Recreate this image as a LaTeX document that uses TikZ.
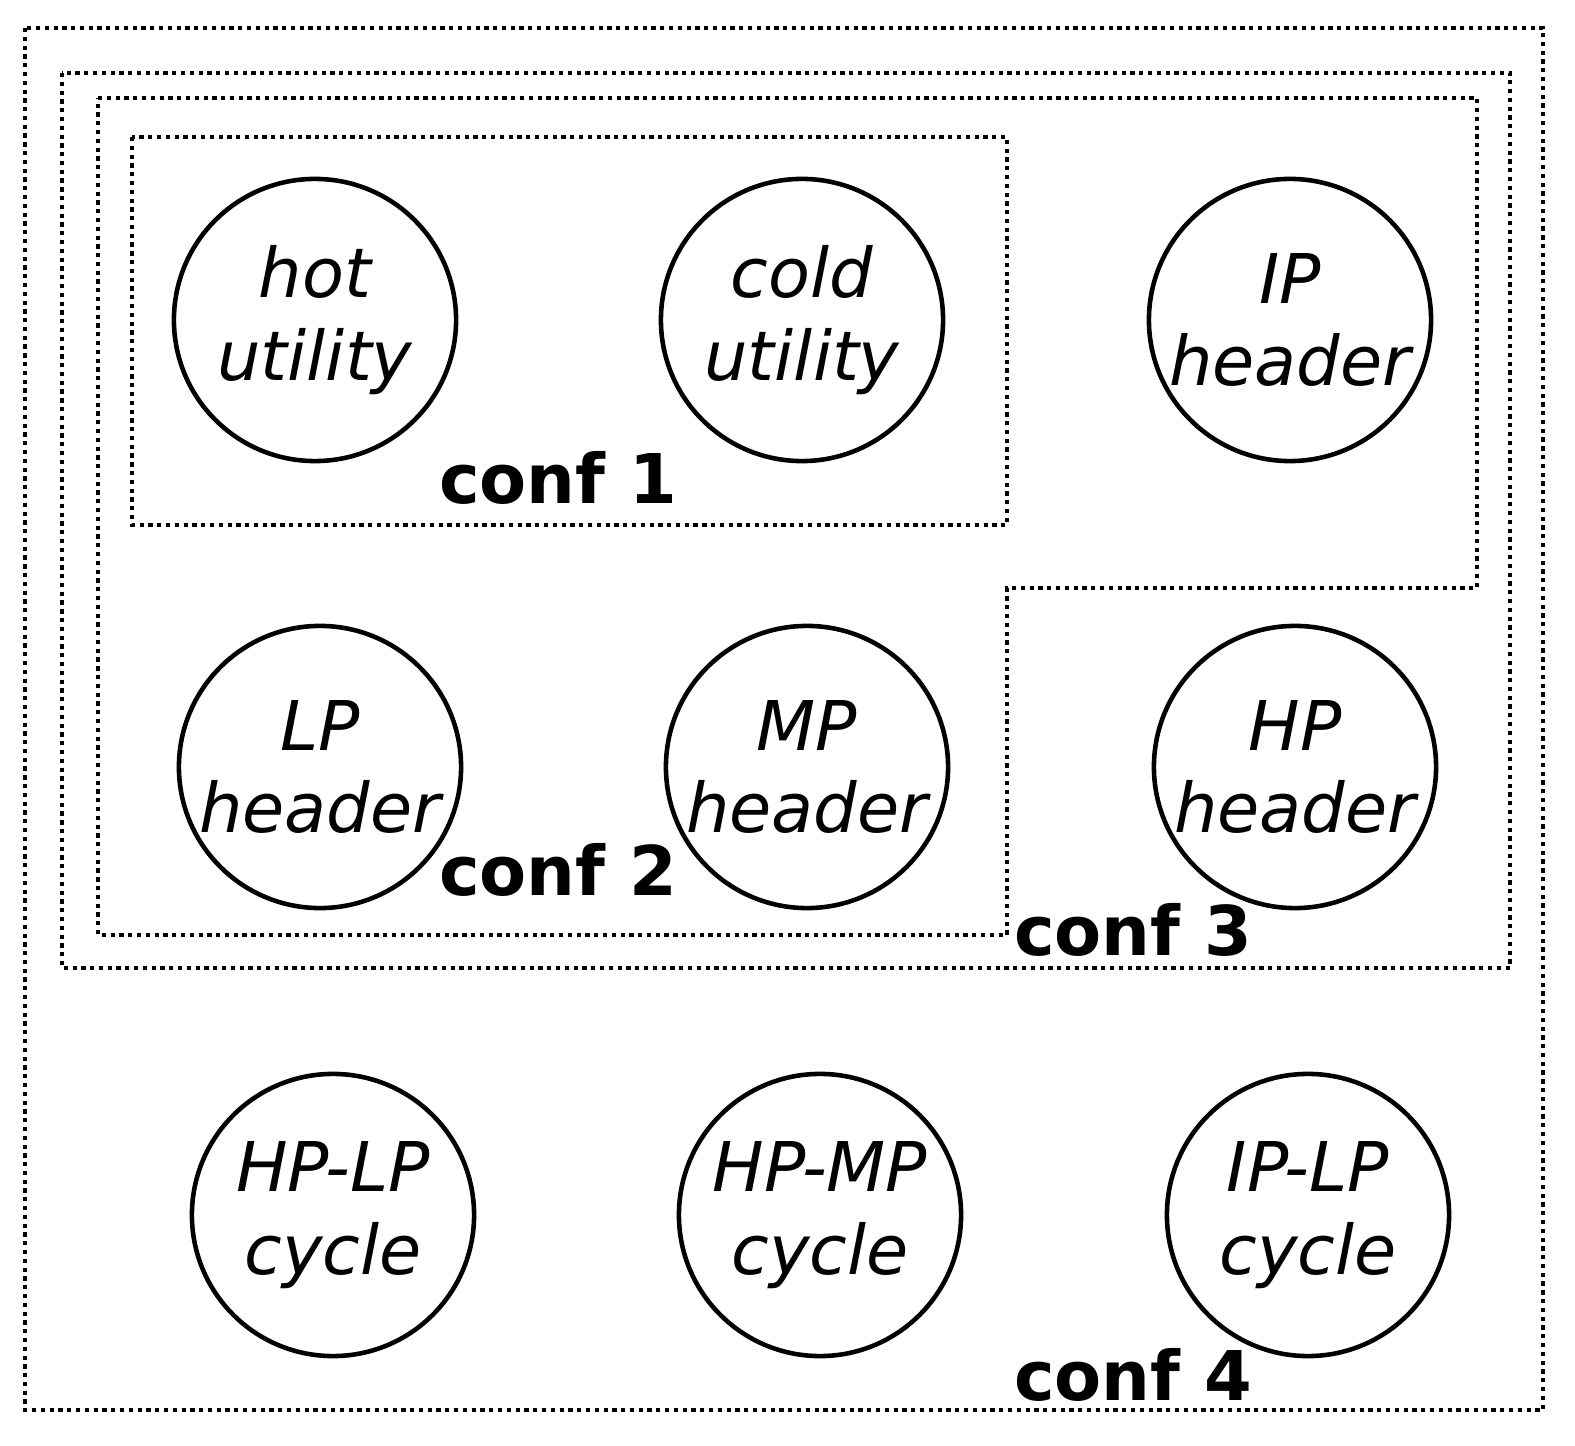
\documentclass[tikz,border=0pt]{standalone}
\usepackage{fontspec}
\setmainfont{DejaVu Sans}
\usetikzlibrary{positioning}

\begin{document}
\begin{tikzpicture}[
    x=0.01cm, y=-0.01cm,
    unit/.style={circle, draw, line width=1.3pt, minimum size=2.82cm, inner sep=0pt, align=center, font=\fontsize{19.5}{23.5}\selectfont\itshape},
    group/.style={draw, line width=1.2pt, dash pattern=on 1.2pt off 1.3pt},
    conf/.style={font=\fontsize{19.5}{24}\selectfont\bfseries}
]
\useasboundingbox (0,0) rectangle (1575,1446);

% Groups
\draw[group] (25,28) rectangle (1543,1410);
\draw[group] (62,73) rectangle (1510,968);
\draw[group] (98,98) -- (1477,98) -- (1477,588) -- (1007,588) -- (1007,935) -- (98,935) -- cycle;
\draw[group] (132,137) rectangle (1007,525);

% Row 1
\node[unit] (hot) at (315,320) {hot\\utility};
\node[unit] (cold) at (802,320) {cold\\utility};
\node[unit] (ip) at (1290,320) {IP\\header};

% Row 2
\node[unit] (lp) at (320,767) {LP\\header};
\node[unit] (mp) at (807,767) {MP\\header};
\node[unit] (hp) at (1295,767) {HP\\header};

% Row 3
\node[unit] (hplp) at (333,1215) {HP-LP\\cycle};
\node[unit] (hpmp) at (820,1215) {HP-MP\\cycle};
\node[unit] (iplp) at (1308,1215) {IP-LP\\cycle};

% Labels
\node[conf] (c1) at (558,478) {conf 1};
\node[conf] (c2) at (558,870) {conf 2};
\node[conf] (c3) at (1133,930) {conf 3};
\node[conf] (c4) at (1133,1375) {conf 4};

\end{tikzpicture}
\end{document}
